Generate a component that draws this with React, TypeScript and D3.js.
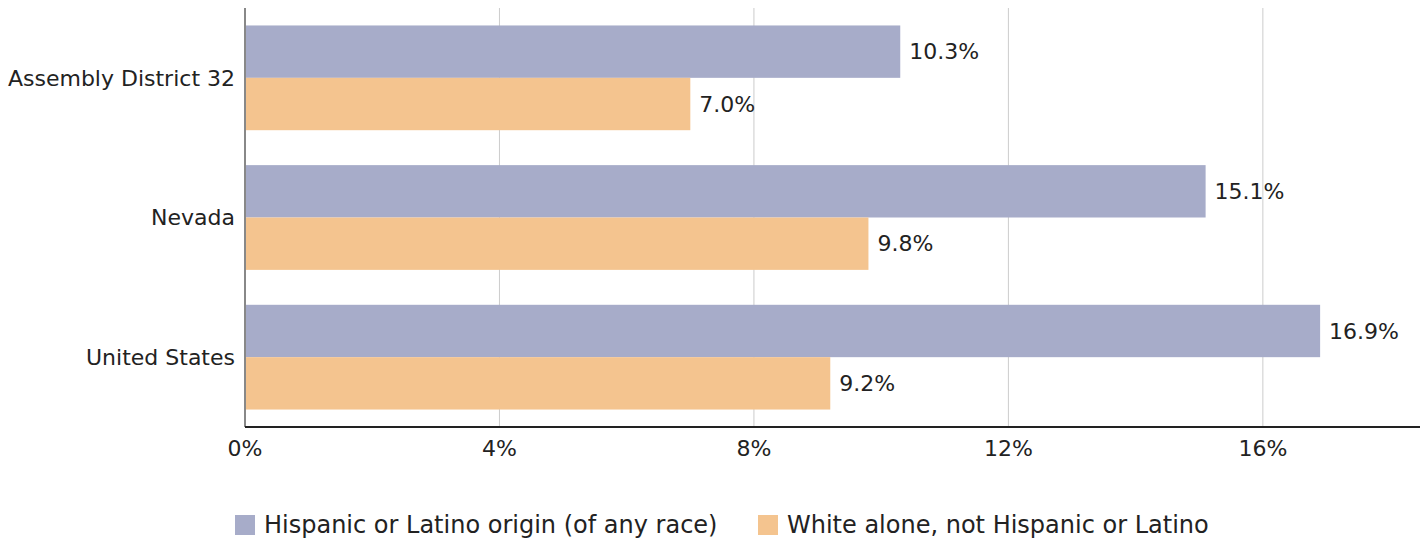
import React, { useEffect, useRef } from 'react';
import * as d3 from 'd3';

// Share of population, by area
const areas = ['Assembly District 32', 'Nevada', 'United States'];
const seriesNames = ['Hispanic or Latino origin (of any race)', 'White alone, not Hispanic or Latino'];
const hispanic = [10.3, 15.1, 16.9];
const whiteAlone = [7.0, 9.8, 9.2];
const xTicks = [0, 4, 8, 12, 16];

const colors = ['#a7acc9', '#f4c48f'];

export default function App() {
  const svgRef = useRef<SVGSVGElement>(null);

  useEffect(() => {
    if (!svgRef.current) return;
    document.body.style.margin = '0';

    const width = 1420;
    const height = 540;
    const margin = { top: 8, right: 0, bottom: 113, left: 245 };
    const font = '"DejaVu Sans", Verdana, sans-serif';

    const svg = d3.select(svgRef.current);
    svg.selectAll('*').remove();
    svg.attr('width', width).attr('height', height).style('font-family', font)
      .style('display', 'block');

    const x = d3.scaleLinear()
      .domain([0, 18.47])
      .range([margin.left, width - margin.right]);

    const y = d3.scaleBand<string>()
      .domain(areas)
      .range([margin.top, height - margin.bottom])
      .paddingInner(0.25)
      .paddingOuter(0.125);

    const inner = d3.scaleBand<number>()
      .domain([0, 1])
      .range([0, y.bandwidth()]);

    // gridlines
    svg.append('g')
      .selectAll('line')
      .data(xTicks.slice(1))
      .enter().append('line')
      .attr('x1', d => x(d)).attr('x2', d => x(d))
      .attr('y1', margin.top).attr('y2', height - margin.bottom)
      .attr('stroke', '#cccccc')
      .attr('stroke-width', 1);

    // bars
    const rows = areas.map((a, i) => ({ area: a, values: [hispanic[i], whiteAlone[i]] }));
    const groups = svg.append('g')
      .selectAll('g')
      .data(rows)
      .enter().append('g')
      .attr('transform', d => `translate(0,${y(d.area)})`);

    groups.selectAll('rect')
      .data(d => d.values.map((v, k) => ({ v, k })))
      .enter().append('rect')
      .attr('x', x(0))
      .attr('y', d => inner(d.k)!)
      .attr('width', d => x(d.v) - x(0))
      .attr('height', inner.bandwidth())
      .attr('fill', d => colors[d.k]);

    groups.selectAll('text')
      .data(d => d.values.map((v, k) => ({ v, k })))
      .enter().append('text')
      .attr('x', d => x(d.v) + 9)
      .attr('y', d => inner(d.k)! + inner.bandwidth() / 2)
      .attr('dy', '0.35em')
      .attr('font-size', 22)
      .attr('fill', '#222')
      .text(d => `${d.v.toFixed(1)}%`);

    // left axis line
    svg.append('line')
      .attr('x1', x(0)).attr('x2', x(0))
      .attr('y1', margin.top).attr('y2', height - margin.bottom)
      .attr('stroke', '#888')
      .attr('stroke-width', 2);

    // bottom axis line
    svg.append('line')
      .attr('x1', x(0)).attr('x2', width)
      .attr('y1', height - margin.bottom).attr('y2', height - margin.bottom)
      .attr('stroke', '#222')
      .attr('stroke-width', 2);

    // category labels
    svg.append('g')
      .selectAll('text')
      .data(areas)
      .enter().append('text')
      .attr('x', margin.left - 10)
      .attr('y', d => y(d)! + y.bandwidth() / 2)
      .attr('dy', '0.35em')
      .attr('text-anchor', 'end')
      .attr('font-size', 22)
      .attr('fill', '#222')
      .text(d => d);

    // tick labels
    svg.append('g')
      .selectAll('text')
      .data(xTicks)
      .enter().append('text')
      .attr('x', d => x(d))
      .attr('y', height - margin.bottom + 21)
      .attr('dy', '0.35em')
      .attr('text-anchor', 'middle')
      .attr('font-size', 22)
      .attr('fill', '#222')
      .text(d => `${d}%`);

    // legend
    const legendX = [235, 758];
    const legend = svg.append('g')
      .selectAll('g')
      .data(seriesNames)
      .enter().append('g')
      .attr('transform', (d, i) => `translate(${legendX[i]},515)`);
    legend.append('rect')
      .attr('width', 20).attr('height', 20)
      .attr('fill', (d, i) => colors[i]);
    legend.append('text')
      .attr('x', 29).attr('y', 10)
      .attr('dy', '0.35em')
      .attr('font-size', 24)
      .attr('fill', '#222')
      .text(d => d);
  }, []);

  return <svg ref={svgRef}></svg>;
}
